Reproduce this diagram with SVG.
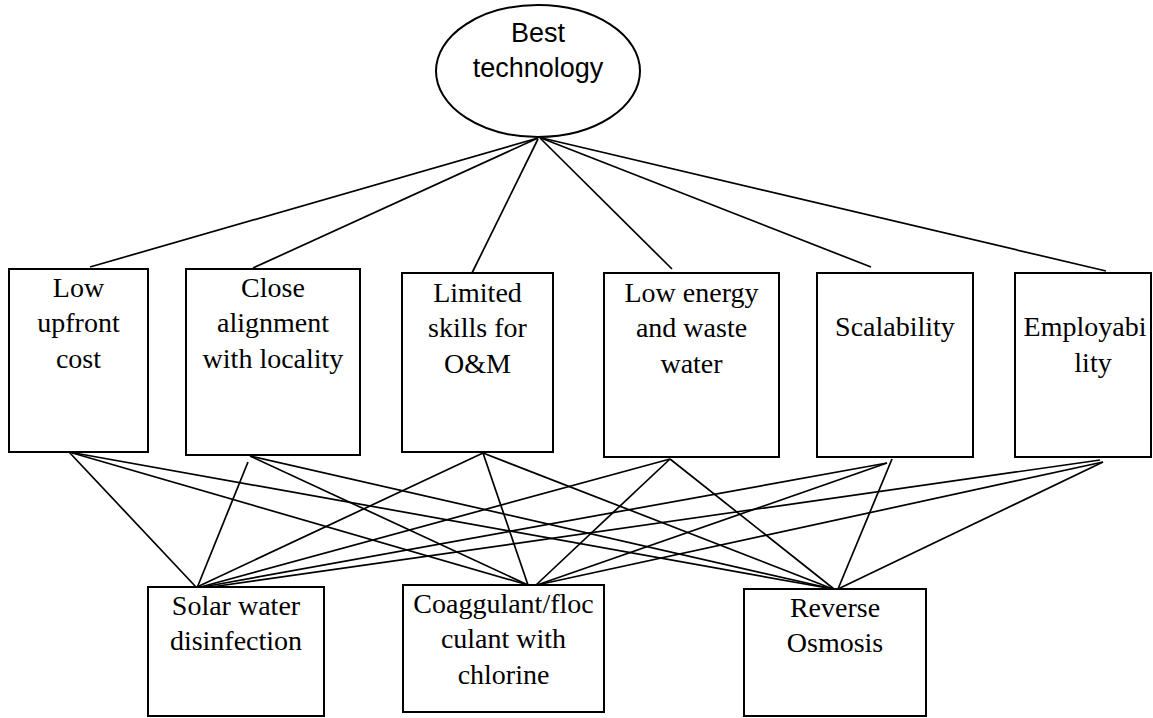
<svg xmlns="http://www.w3.org/2000/svg" width="1153" height="718" viewBox="0 0 1153 718">
<style>
.box{fill:#fff;stroke:#000;stroke-width:2}
.ell{fill:#fff;stroke:#000;stroke-width:2}
.t{font-family:"Liberation Serif","Times New Roman",serif;font-size:28px;fill:#000;text-anchor:middle}
.s{font-family:"Liberation Sans",Arial,sans-serif;font-size:27px;fill:#000;text-anchor:middle}
#connectors line{stroke:#000;stroke-width:1.7;fill:none}
</style>
<rect width="1153" height="718" fill="#fff"/>
<g id="connectors">
<line x1="538" y1="138" x2="90" y2="267"/>
<line x1="538" y1="138" x2="253" y2="268"/>
<line x1="538" y1="139" x2="472" y2="273"/>
<line x1="540" y1="138" x2="672" y2="269"/>
<line x1="541" y1="138" x2="871" y2="267"/>
<line x1="542" y1="138" x2="1106" y2="271"/>
<line x1="69" y1="452" x2="196" y2="587"/>
<line x1="69" y1="452" x2="528" y2="585"/>
<line x1="69" y1="452" x2="833" y2="589"/>
<line x1="248" y1="462" x2="197" y2="588"/>
<line x1="250" y1="456" x2="528" y2="585"/>
<line x1="250" y1="456" x2="833" y2="589"/>
<line x1="483" y1="453" x2="197" y2="587"/>
<line x1="483" y1="453" x2="528" y2="585"/>
<line x1="483" y1="453" x2="833" y2="589"/>
<line x1="670" y1="459" x2="197" y2="588"/>
<line x1="670" y1="459" x2="536" y2="585"/>
<line x1="670" y1="459" x2="834" y2="589"/>
<line x1="887" y1="463" x2="197" y2="588"/>
<line x1="887" y1="463" x2="537" y2="585"/>
<line x1="892" y1="459" x2="838" y2="589"/>
<line x1="1100" y1="460" x2="197" y2="589"/>
<line x1="1103" y1="462" x2="537" y2="585"/>
<line x1="1103" y1="462" x2="838" y2="589"/>
</g>
<g id="node-best">
<ellipse class="ell" cx="538" cy="71" rx="102" ry="66"/>
<text class="s" x="538" y="42">Best</text>
<text class="s" x="538" y="77">technology</text>
</g>
<g id="node-upfront">
<rect class="box" x="9" y="269" width="139" height="183"/>
<text class="t" x="78.5" y="297">Low</text>
<text class="t" x="78.5" y="332">upfront</text>
<text class="t" x="78.5" y="368">cost</text>
</g>
<g id="node-alignment">
<rect class="box" x="186" y="269" width="174" height="186"/>
<text class="t" x="273" y="297">Close</text>
<text class="t" x="273" y="332">alignment</text>
<text class="t" x="273" y="368">with locality</text>
</g>
<g id="node-skills">
<rect class="box" x="402" y="273" width="151" height="179"/>
<text class="t" x="477.5" y="302">Limited</text>
<text class="t" x="477.5" y="337">skills for</text>
<text class="t" x="477.5" y="373">O&amp;M</text>
</g>
<g id="node-energy">
<rect class="box" x="604" y="273" width="175" height="184"/>
<text class="t" x="691.5" y="302">Low energy</text>
<text class="t" x="691.5" y="337">and waste</text>
<text class="t" x="691.5" y="373">water</text>
</g>
<g id="node-scalability">
<rect class="box" x="817" y="273" width="156" height="184"/>
<text class="t" x="895" y="336">Scalability</text>
</g>
<g id="node-employability">
<rect class="box" x="1015" y="273" width="136" height="184"/>
<text class="t" x="1085" y="336">Employabi</text>
<text class="t" x="1093" y="372">lity</text>
</g>
<g id="node-solar">
<rect class="box" x="148" y="587" width="176" height="129"/>
<text class="t" x="236" y="615">Solar water</text>
<text class="t" x="236" y="650">disinfection</text>
</g>
<g id="node-coag">
<rect class="box" x="403" y="585" width="201" height="127"/>
<text class="t" x="503.5" y="613">Coaggulant/floc</text>
<text class="t" x="503.5" y="648">culant with</text>
<text class="t" x="503.5" y="684">chlorine</text>
</g>
<g id="node-ro">
<rect class="box" x="744" y="589" width="182" height="127"/>
<text class="t" x="835" y="617">Reverse</text>
<text class="t" x="835" y="652">Osmosis</text>
</g>
</svg>
